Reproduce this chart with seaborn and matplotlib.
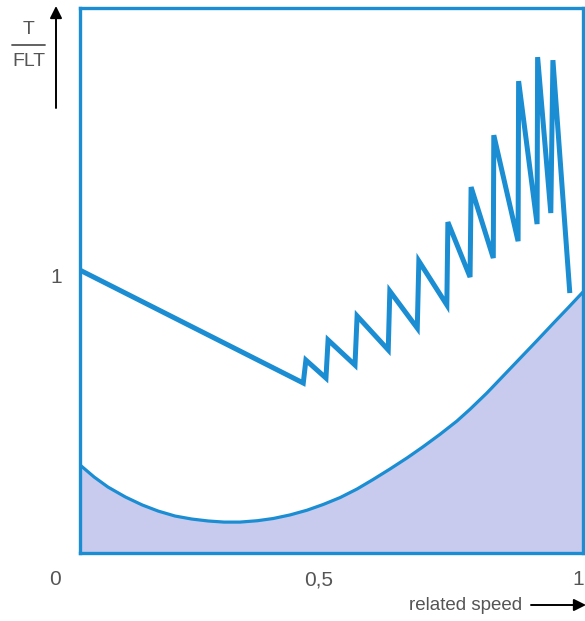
import numpy as np
import pandas as pd
import matplotlib
matplotlib.use("Agg")
import matplotlib.pyplot as plt
import matplotlib.transforms as mtransforms
import seaborn as sns

# ---- data ----
speed_torque = [0.047, 0.470, 0.475, 0.513, 0.517, 0.568, 0.572, 0.631, 0.634,
                0.686, 0.689, 0.742, 0.744, 0.786, 0.788, 0.830, 0.831, 0.877,
                0.878, 0.913, 0.914, 0.939, 0.943, 0.975]
torque_ratio = [1.025, 0.616, 0.699, 0.634, 0.772, 0.681, 0.859, 0.736, 0.949,
                0.815, 1.058, 0.899, 1.199, 1.000, 1.326, 1.069, 1.514, 1.130,
                1.710, 1.192, 1.797, 1.232, 1.786, 0.942]

speed_load = [0.047, 0.074, 0.100, 0.133, 0.165, 0.195, 0.227, 0.259, 0.290,
              0.320, 0.350, 0.383, 0.413, 0.445, 0.477, 0.508, 0.540, 0.572,
              0.602, 0.634, 0.667, 0.697, 0.729, 0.761, 0.786, 0.818, 0.848,
              0.881, 0.913, 0.943, 0.972, 1.000]
load_ratio = [0.319, 0.275, 0.239, 0.203, 0.174, 0.152, 0.134, 0.123, 0.116,
              0.112, 0.112, 0.117, 0.125, 0.138, 0.155, 0.176, 0.201, 0.232,
              0.266, 0.304, 0.345, 0.385, 0.430, 0.478, 0.521, 0.580, 0.640,
              0.706, 0.770, 0.831, 0.889, 0.946]

x_ticks = [0, 0.5, 1]
x_tick_labels = ["0", "0,5", "1"]
y_ticks = [1]
y_tick_labels = ["1"]

BLUE = "#1b8dd2"
FILL = "#c8cbee"
GREY = "#555555"

sns.set_theme(style="white")
plt.rcParams["font.family"] = ["Liberation Sans", "DejaVu Sans"]

W, H = 585, 621
fig = plt.figure(figsize=(W / 100, H / 100), dpi=100)
ax = fig.add_axes([80 / W, 1 - 553 / H, (583 - 80) / W, (553 - 8) / H])

df_t = pd.DataFrame({"speed": speed_torque, "ratio": torque_ratio})
df_l = pd.DataFrame({"speed": speed_load, "ratio": load_ratio})

ax.fill_between(df_l["speed"], 0, df_l["ratio"], color=FILL, lw=0, zorder=1)
sns.lineplot(data=df_l, x="speed", y="ratio", sort=False, estimator=None,
             color=BLUE, lw=2.3, ax=ax, zorder=2)
sns.lineplot(data=df_t, x="speed", y="ratio", sort=False, estimator=None,
             color=BLUE, lw=3.6, ax=ax, zorder=3,
             solid_joinstyle="miter", solid_capstyle="butt")

ax.set_xlim(0.047, 1.0)
ax.set_ylim(0, 1.975)
ax.set_xticks([])
ax.set_yticks([])
ax.set_xlabel("")
ax.set_ylabel("")
for s in ax.spines.values():
    s.set_visible(True)
    s.set_color(BLUE)
    s.set_linewidth(2.4)

# tick labels
xt = ax.get_xaxis_transform()
for v, lab in zip(x_ticks, x_tick_labels):
    dx = -5 if v == 1 else 0
    tr = mtransforms.offset_copy(xt, fig=fig, x=dx, units="dots")
    ax.text(v, -0.0495, lab, transform=tr, ha="center", va="center",
            fontsize=15, color=GREY, clip_on=False)
yt = ax.get_yaxis_transform()
for v, lab in zip(y_ticks, y_tick_labels):
    ax.text(-0.047, v, lab, transform=yt, ha="center", va="center",
            fontsize=15, color=GREY, clip_on=False)

# axis titles
def fx(px):
    return px / W

def fy(py):
    return 1 - py / H

fig.text(fx(29), fy(29), "T", ha="center", va="center", fontsize=14, color=GREY)
fig.text(fx(29), fy(61), "FLT", ha="center", va="center", fontsize=14, color=GREY)
fig.add_artist(plt.Line2D([fx(12), fx(45)], [fy(45), fy(45)], color=GREY, lw=1.3))
fig.text(fx(522), fy(606), "related speed", ha="right", va="center",
         fontsize=13.5, color=GREY)

ax.annotate("", xy=(fx(56), fy(6)), xytext=(fx(56), fy(108)),
            xycoords="figure fraction", textcoords="figure fraction",
            arrowprops=dict(arrowstyle="-|>", color="black", lw=1.4,
                            mutation_scale=18, shrinkA=0, shrinkB=0))
ax.annotate("", xy=(fx(586), fy(605)), xytext=(fx(531), fy(605)),
            xycoords="figure fraction", textcoords="figure fraction",
            arrowprops=dict(arrowstyle="-|>", color="black", lw=1.4,
                            mutation_scale=18, shrinkA=0, shrinkB=0))

fig.savefig("out.png", dpi=100)
